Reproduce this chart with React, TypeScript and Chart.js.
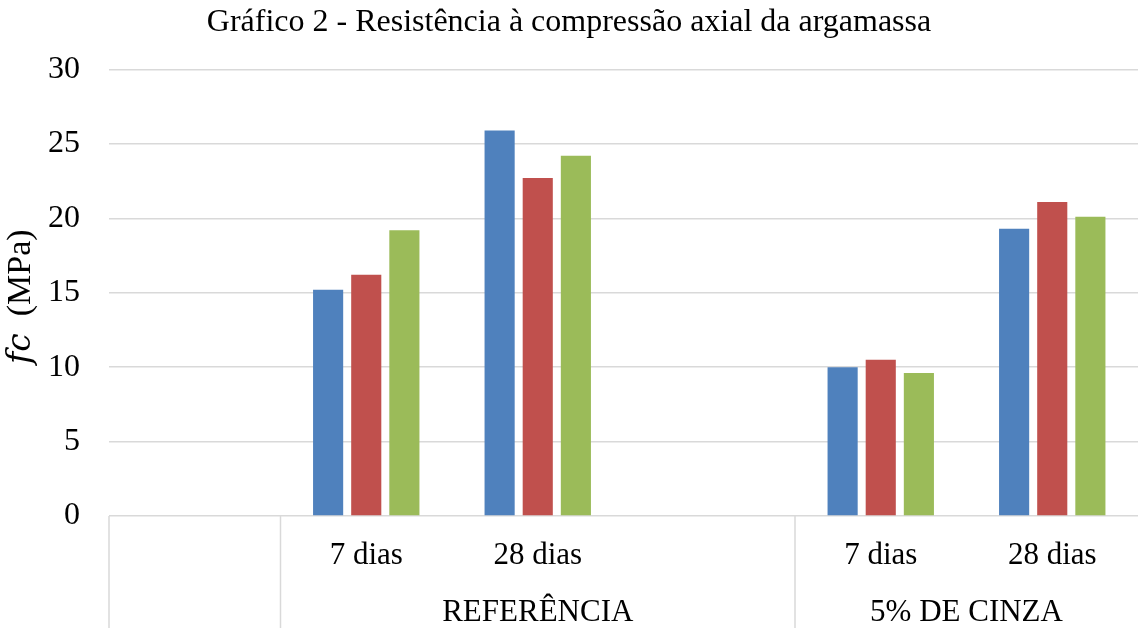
import React, { useEffect, useRef } from "react";
import { Chart, registerables } from "chart.js";

Chart.register(...registerables);

const categories = ["", "7 dias", "28 dias", "", "7 dias", "28 dias"];
const groups = ["", "REFERÊNCIA", "REFERÊNCIA", "REFERÊNCIA", "5% DE CINZA", "5% DE CINZA"];
const seriesNames = ["CP 1", "CP 2", "CP 3"];
const cp1 = [null, 15.2, 25.9, null, 10.0, 19.3];
const cp2 = [null, 16.2, 22.7, null, 10.5, 21.1];
const cp3 = [null, 19.2, 24.2, null, 9.6, 20.1];
const yTicks = [0, 5, 10, 15, 20, 25, 30];

const TITLE = "Gráfico 2 - Resistência à compressão axial da argamassa";
const COLORS = ["#4F81BD", "#C0504D", "#9BBB59"];
const GRID = "#D9D9D9";
const FONT = "'Liberation Serif', 'Times New Roman', serif";

const multiLevelPlugin = {
  id: "multiLevel",
  afterDraw(chart: any) {
    const ctx = chart.ctx;
    const x = chart.scales.x;
    const area = chart.chartArea;
    ctx.save();
    ctx.strokeStyle = GRID;
    ctx.lineWidth = 1.5;
    const bounds: number[] = [area.left];
    const starts: number[] = [0];
    for (let i = 1; i < categories.length; i++) {
      if (groups[i] !== groups[i - 1]) {
        bounds.push((x.getPixelForValue(i - 1) + x.getPixelForValue(i)) / 2);
        starts.push(i);
      }
    }
    bounds.forEach((b) => {
      ctx.beginPath();
      ctx.moveTo(b, area.bottom);
      ctx.lineTo(b, chart.height);
      ctx.stroke();
    });
    ctx.fillStyle = "#000";
    ctx.font = `31px ${FONT}`;
    ctx.textAlign = "center";
    ctx.textBaseline = "alphabetic";
    starts.forEach((s, k) => {
      const left = bounds[k];
      const right = k + 1 < bounds.length ? bounds[k + 1] : area.right;
      const label = groups[s];
      if (label) ctx.fillText(label, (left + right) / 2, 621);
    });
    // y axis title with italic symbol
    const cx = 21;
    const cy = (area.top + area.bottom) / 2 + 4;
    ctx.translate(cx, cy);
    ctx.rotate(-Math.PI / 2);
    const p1 = "fc";
    const p2 = "  (MPa)";
    const f1 = `italic 33px 'DejaVu Serif', serif`;
    const f2 = `34px ${FONT}`;
    ctx.font = f1;
    const w1 = ctx.measureText(p1).width;
    ctx.font = f2;
    const w2 = ctx.measureText(p2).width;
    const start = -(w1 + w2) / 2;
    ctx.textAlign = "left";
    ctx.textBaseline = "middle";
    ctx.font = f1;
    ctx.fillText(p1, start, 0);
    ctx.font = f2;
    ctx.fillText(p2, start + w1, 0);
    ctx.restore();
  },
};

export default function App() {
  const ref = useRef<HTMLCanvasElement | null>(null);
  useEffect(() => {
    if (!ref.current) return;
    const data = [cp1, cp2, cp3];
    const chart = new Chart(ref.current, {
      type: "bar",
      data: {
        labels: categories,
        datasets: seriesNames.map((name, i) => ({
          label: name,
          data: data[i],
          backgroundColor: COLORS[i],
          borderWidth: 0,
          categoryPercentage: 0.667,
          barPercentage: 0.79,
        })),
      },
      options: {
        responsive: false,
        animation: false,
        devicePixelRatio: 1,
        layout: { padding: { left: 0, right: 9, top: 0, bottom: 0 } },
        plugins: {
          legend: { display: false },
          tooltip: { enabled: false },
          title: {
            display: true,
            text: TITLE,
            color: "#000",
            font: { family: FONT, size: 32, weight: "normal" },
            padding: { top: 3, bottom: 28 },
          },
        },
        scales: {
          x: {
            grid: { display: false },
            border: { display: false },
            ticks: {
              color: "#000",
              font: { family: FONT, size: 31 },
              padding: 13,
              maxRotation: 0,
              autoSkip: false,
            },
            afterFit(scale: any) {
              scale.height = 112;
            },
          },
          y: {
            min: 0,
            max: 30,
            afterBuildTicks(scale: any) {
              scale.ticks = yTicks.map((v) => ({ value: v }));
            },
            grid: { color: GRID, lineWidth: 1.5, drawTicks: false },
            border: { display: false },
            ticks: {
              color: "#000",
              font: { family: FONT, size: 32 },
              padding: 29,
            },
            afterFit(scale: any) {
              scale.width = 109;
            },
          },
        },
      },
      plugins: [multiLevelPlugin],
    });
    return () => chart.destroy();
  }, []);
  return (
    <div style={{ position: "absolute", left: 0, top: 0, width: 1147, height: 628 }}>
      <canvas ref={ref} width={1147} height={628} />
    </div>
  );
}
